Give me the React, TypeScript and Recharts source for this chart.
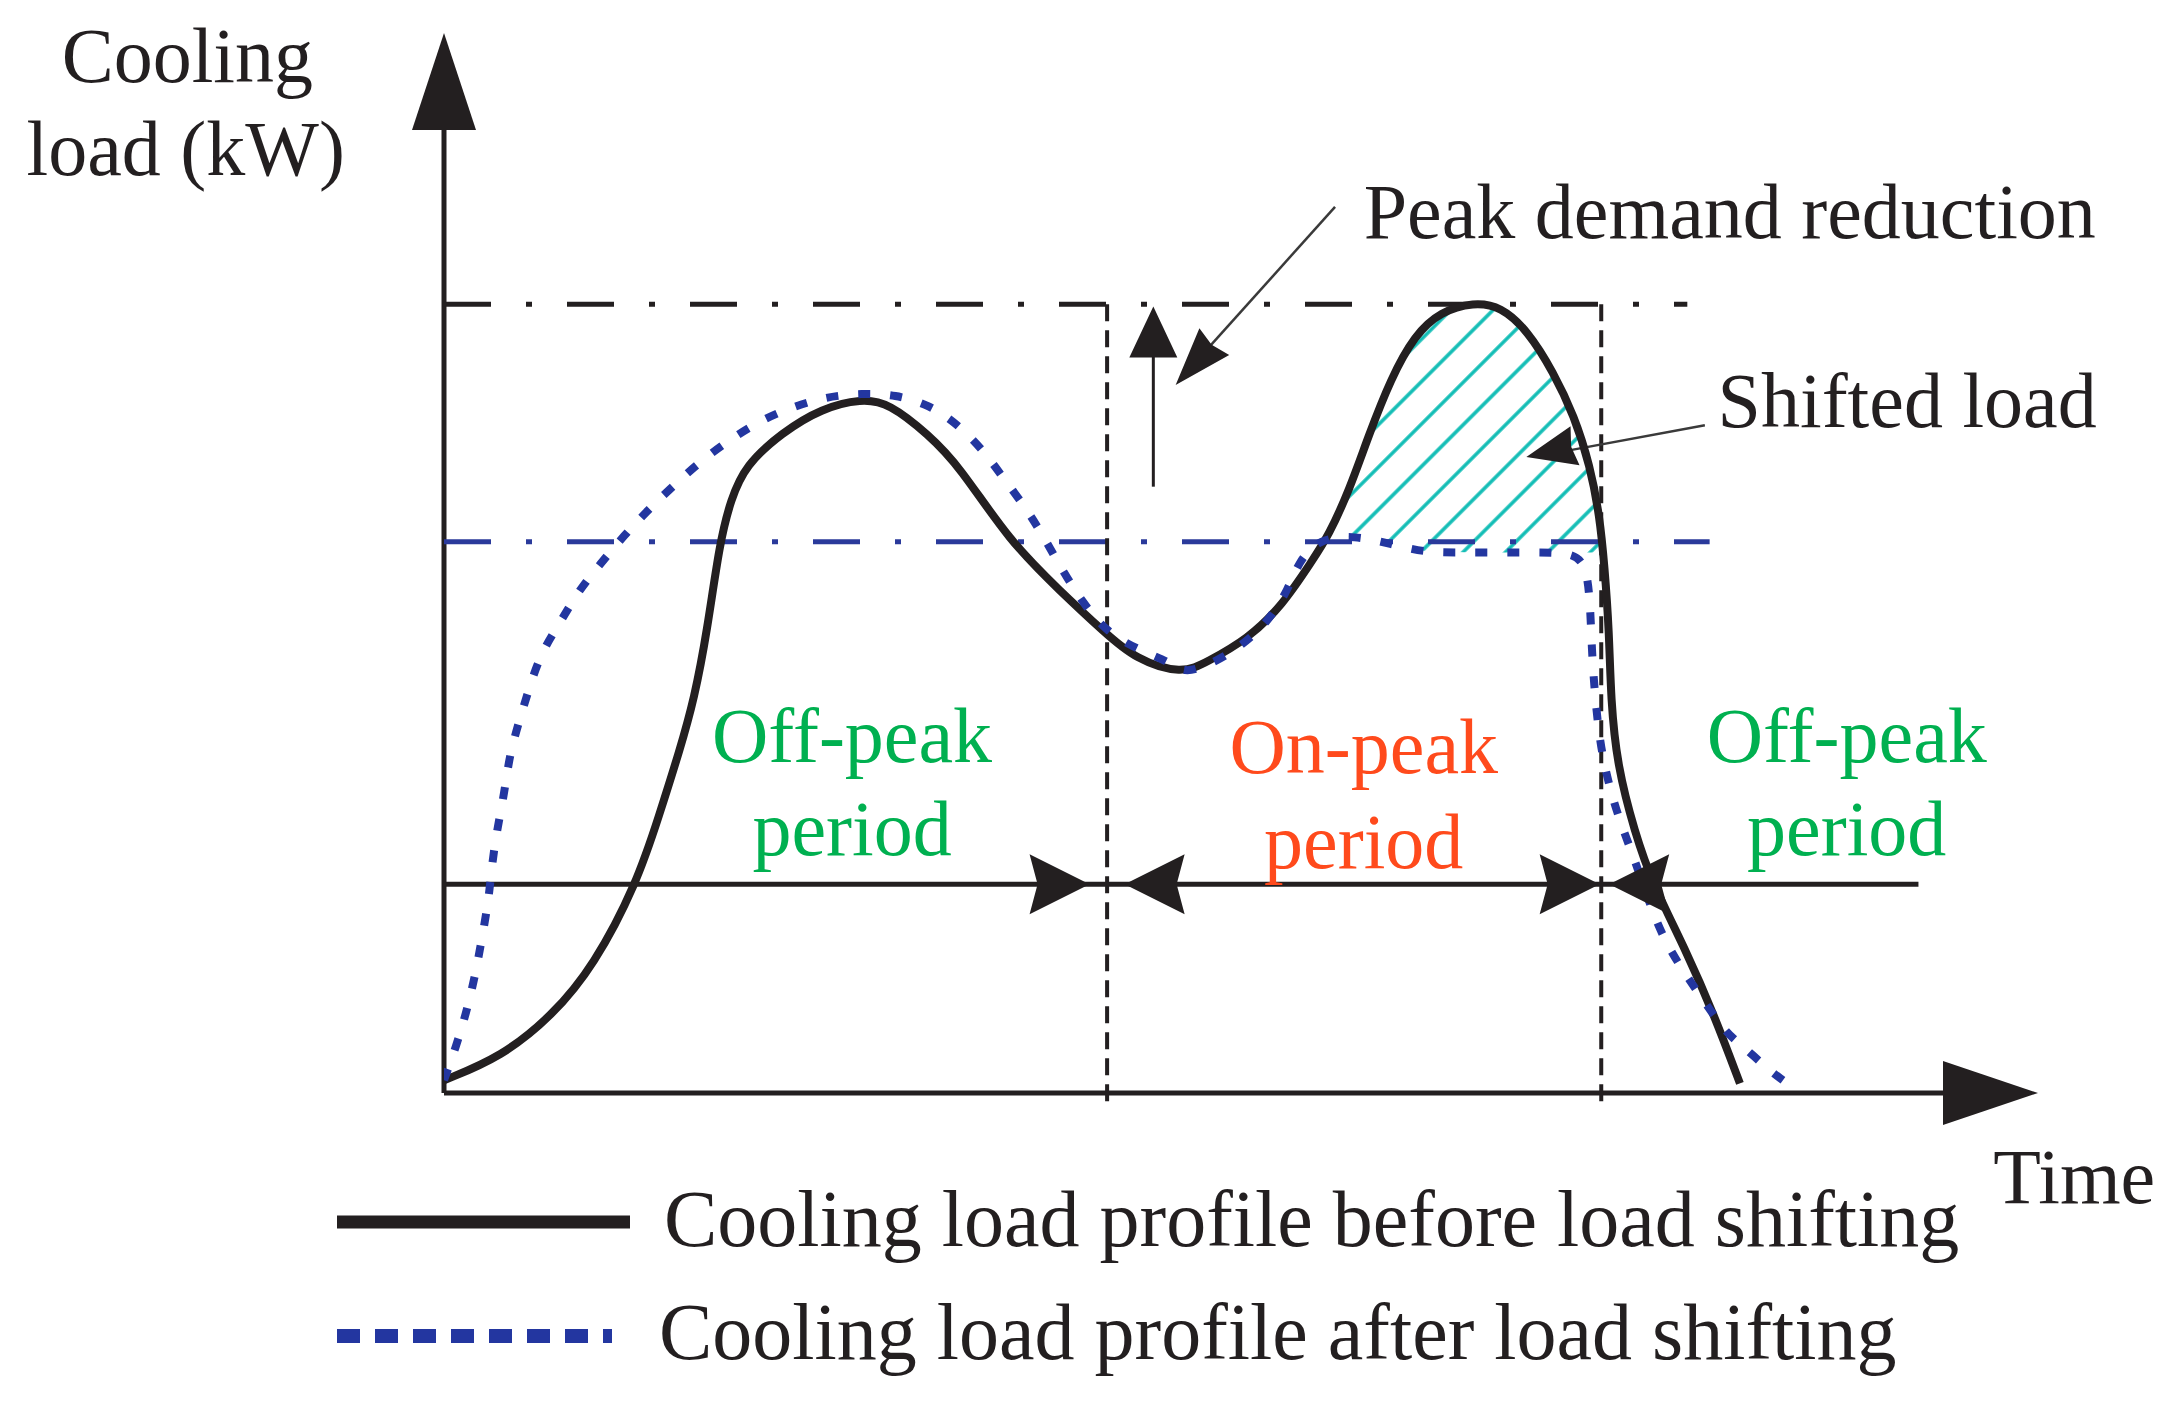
import React from 'react';
import {
  ComposedChart,
  Line,
  Area,
  XAxis,
  YAxis,
  ReferenceLine,
  ReferenceDot,
  Legend,
} from 'recharts';

// ---------- data (time and load in arbitrary 0-100 units) ----------
const beforeShifting = [
  { t: 0, load: 1.2 }, { t: 3.6, load: 3.4 }, { t: 6.8, load: 7.3 }, { t: 9.4, load: 12.0 },
  { t: 12.1, load: 19.8 }, { t: 13.5, load: 26.2 }, { t: 14.8, load: 32.4 },
  { t: 15.7, load: 37.2 }, { t: 16.5, load: 43.5 }, { t: 17.3, load: 52.0 }, { t: 18.0, load: 56.0 },
  { t: 18.9, load: 59.2 }, { t: 21.2, load: 62.3 }, { t: 23.7, load: 64.6 }, { t: 26.2, load: 65.5 },
  { t: 27.9, load: 65.1 }, { t: 30.4, load: 62.1 }, { t: 32.3, load: 59.2 }, { t: 35.5, load: 52.0 },
  { t: 38.7, load: 47.3 }, { t: 41.4, load: 43.5 }, { t: 43.4, load: 40.9 }, { t: 46.3, load: 39.5 },
  { t: 47.9, load: 40.7 }, { t: 50.4, load: 42.8 }, { t: 52.6, load: 46.0 }, { t: 54.5, load: 50.3 },
  { t: 55.5, load: 52.6 }, { t: 56.8, load: 56.9 }, { t: 58.0, load: 62.0 }, { t: 59.4, load: 67.4 },
  { t: 60.9, load: 71.5 }, { t: 62.5, load: 73.7 }, { t: 64.6, load: 74.6 }, { t: 66.3, load: 74.2 },
  { t: 68.0, load: 71.9 }, { t: 69.6, load: 68.0 }, { t: 70.9, load: 63.9 }, { t: 71.9, load: 59.2 },
  { t: 72.5, load: 54.4 }, { t: 72.8, load: 49.8 }, { t: 73.1, load: 43.5 }, { t: 73.2, load: 37.1 },
  { t: 73.6, load: 30.9 }, { t: 74.7, load: 24.6 }, { t: 75.8, load: 19.8 }, { t: 77.9, load: 13.5 },
  { t: 79.7, load: 7.3 }, { t: 81.3, load: 0.9 },
];

const afterShifting = [
  { t: 0, load: 1.2 }, { t: 0.9, load: 5.0 }, { t: 1.5, load: 8.2 }, { t: 2.0, load: 11.4 },
  { t: 2.4, load: 14.8 }, { t: 2.8, load: 18.2 }, { t: 3.0, load: 21.4 }, { t: 3.3, load: 24.6 },
  { t: 3.8, load: 28.4 }, { t: 4.1, load: 31.8 }, { t: 4.7, load: 35.0 }, { t: 5.3, load: 38.0 },
  { t: 6.1, load: 41.6 }, { t: 7.3, load: 44.4 }, { t: 8.4, load: 47.3 }, { t: 9.8, load: 49.9 },
  { t: 11.3, load: 52.6 }, { t: 12.8, load: 55.0 }, { t: 14.4, load: 57.3 }, { t: 16.1, load: 59.6 },
  { t: 17.9, load: 61.6 }, { t: 19.8, load: 63.4 }, { t: 21.8, load: 64.7 }, { t: 24.0, load: 65.7 },
  { t: 26.2, load: 66.0 }, { t: 28.3, load: 65.9 }, { t: 30.5, load: 64.9 }, { t: 32.3, load: 63.0 },
  { t: 33.9, load: 60.5 }, { t: 35.1, load: 58.0 }, { t: 36.6, load: 55.0 }, { t: 37.8, load: 52.0 },
  { t: 38.8, load: 49.3 }, { t: 40.1, load: 46.2 }, { t: 41.5, load: 43.6 }, { t: 43.4, load: 41.9 },
  { t: 45.5, load: 40.7 }, { t: 46.4, load: 39.6 }, { t: 47.9, load: 40.3 }, { t: 49.8, load: 41.9 },
  { t: 51.7, load: 44.4 }, { t: 53.0, load: 47.6 }, { t: 53.6, load: 50.1 }, { t: 54.9, load: 52.3 },
  { t: 57.1, load: 52.6 }, { t: 59.4, load: 51.8 }, { t: 61.5, load: 51.0 }, { t: 63.6, load: 51.0 },
  { t: 65.9, load: 51.0 }, { t: 68.1, load: 51.0 }, { t: 70.4, load: 51.0 }, { t: 71.6, load: 50.3 },
  { t: 71.9, load: 46.6 }, { t: 72.0, load: 41.9 }, { t: 72.2, load: 37.5 }, { t: 72.6, load: 31.8 },
  { t: 73.6, load: 26.2 }, { t: 74.7, load: 22.1 }, { t: 76.1, load: 15.7 }, { t: 77.5, load: 12.0 },
  { t: 79.0, load: 8.8 }, { t: 80.4, load: 5.7 }, { t: 81.5, load: 4.4 }, { t: 83.1, load: 2.2 },
  { t: 84.0, load: 1.2 },
];

const shiftedLoad = [
  { t: 55.2, low: 52.4, high: 52.4 }, { t: 56.8, low: 52.6, high: 56.9 }, { t: 58.0, low: 52.3, high: 62.0 },
  { t: 59.4, low: 51.8, high: 67.4 }, { t: 60.9, low: 51.2, high: 71.5 }, { t: 62.5, low: 51.0, high: 73.7 },
  { t: 64.6, low: 51.0, high: 74.6 }, { t: 66.3, low: 51.0, high: 74.2 }, { t: 68.0, low: 51.0, high: 71.9 },
  { t: 69.6, low: 51.0, high: 68.0 }, { t: 70.9, low: 51.0, high: 63.9 }, { t: 71.9, low: 51.0, high: 59.2 },
  { t: 72.5, low: 51.0, high: 54.4 }, { t: 72.75, low: 51.0, high: 51.0 },
];

// key levels and period boundaries
const originalPeak = 74.4;
const reducedPeak = 52.0;
const onPeakStart = 41.6;
const onPeakEnd = 72.6;
const periodLevel = 19.7;

const seriesNames = ['Cooling load profile before load shifting', 'Cooling load profile after load shifting'];

// ---------- styles ----------
const INK = '#231f20';
const BLUE = '#2336a0';
const GREEN = '#00b050';
const RED = '#ff4a1c';
const CYAN = '#12bdb5';
const FONT = '"Liberation Serif", "Times New Roman", serif';
const FS = 78;

const W = 2182;
const H = 1406;

const textShape = (text: string, anchor: 'start' | 'middle' | 'end', color: string) => (props: any) => {
  const { cx, cy } = props;
  if (cx == null || cy == null) return <g />;
  return (
    <text x={cx} y={cy} textAnchor={anchor} fontFamily={FONT} fontSize={FS} fill={color}>
      {text}
    </text>
  );
};

const arrowShape = (angleDeg: number, len: number, half: number, notch = 0) => (props: any) => {
  const { cx, cy } = props;
  if (cx == null || cy == null) return <g />;
  const a = (angleDeg * Math.PI) / 180;
  const ux = Math.cos(a);
  const uy = Math.sin(a);
  const px = -uy;
  const py = ux;
  const bx = cx - ux * len;
  const by = cy - uy * len;
  const nx = cx - ux * (len - notch);
  const ny = cy - uy * (len - notch);
  const pts = [
    [cx, cy],
    [bx + px * half, by + py * half],
    [nx, ny],
    [bx - px * half, by - py * half],
  ];
  return <polygon points={pts.map((p) => p.join(',')).join(' ')} fill={INK} />;
};

const annotations = [
  { text: 'Cooling', t: -16.1, load: 95.4, anchor: 'middle', color: INK },
  { text: 'load (kW)', t: -16.2, load: 86.6, anchor: 'middle', color: INK },
  { text: 'Peak demand reduction', t: 57.7, load: 80.7, anchor: 'start', color: INK },
  { text: 'Shifted load', t: 79.9, load: 62.8, anchor: 'start', color: INK },
  { text: 'Off-peak', t: 25.6, load: 31.2, anchor: 'middle', color: GREEN },
  { text: 'period', t: 25.6, load: 22.5, anchor: 'middle', color: GREEN },
  { text: 'On-peak', t: 57.7, load: 30.2, anchor: 'middle', color: RED },
  { text: 'period', t: 57.7, load: 21.2, anchor: 'middle', color: RED },
  { text: 'Off-peak', t: 88.0, load: 31.2, anchor: 'middle', color: GREEN },
  { text: 'period', t: 88.0, load: 22.5, anchor: 'middle', color: GREEN },
  { text: 'Time', t: 97.2, load: -10.4, anchor: 'start', color: INK },
] as const;

const arrowHeads = [
  { t: 0, load: 100, angle: -90, len: 97, half: 32, notch: 0 },
  { t: 100, load: 0, angle: 0, len: 95, half: 32, notch: 0 },
  { t: 40.5, load: periodLevel, angle: 0, len: 60, half: 30, notch: 8 },
  { t: 42.7, load: periodLevel, angle: 180, len: 60, half: 30, notch: 8 },
  { t: 72.5, load: periodLevel, angle: 0, len: 60, half: 30, notch: 8 },
  { t: 73.1, load: periodLevel, angle: 180, len: 60, half: 30, notch: 8 },
  { t: 44.5, load: 74.2, angle: -90, len: 51, half: 24, notch: 0 },
  { t: 45.9, load: 66.8, angle: 131.8, len: 58, half: 20, notch: 4 },
  { t: 67.9, load: 60.0, angle: 167, len: 50, half: 20, notch: 4 },
];

const segments = [
  // axes
  { a: { x: 0, y: 0 }, b: { x: 0, y: 92 }, stroke: INK, width: 5, dash: undefined },
  { a: { x: 0, y: 0 }, b: { x: 95, y: 0 }, stroke: INK, width: 5, dash: undefined },
  // original peak and reduced peak levels
  { a: { x: 0, y: originalPeak }, b: { x: 78, y: originalPeak }, stroke: INK, width: 5, dash: '47 35 6 35' },
  { a: { x: 0, y: reducedPeak }, b: { x: 79.4, y: reducedPeak }, stroke: '#2a3a9b', width: 5, dash: '47 35 6 35' },
  // period boundaries
  { a: { x: onPeakStart, y: originalPeak }, b: { x: onPeakStart, y: -1.5 }, stroke: INK, width: 4, dash: '17 9' },
  { a: { x: onPeakEnd, y: originalPeak }, b: { x: onPeakEnd, y: -1.5 }, stroke: INK, width: 4, dash: '17 9' },
  // period arrow line
  { a: { x: 0, y: periodLevel }, b: { x: 92.5, y: periodLevel }, stroke: INK, width: 5, dash: undefined },
  // peak demand reduction arrow
  { a: { x: 44.5, y: 57.2 }, b: { x: 44.5, y: 70 }, stroke: INK, width: 3, dash: undefined },
  { a: { x: 55.9, y: 83.6 }, b: { x: 47.6, y: 69.7 }, stroke: '#3a3a3a', width: 2.5, dash: undefined },
  // shifted load leader
  { a: { x: 79.1, y: 63.0 }, b: { x: 70.5, y: 60.6 }, stroke: '#3a3a3a', width: 2.5, dash: undefined },
];

const LEGEND_TOP = 1130;

const renderLegend = (props: any) => {
  const payload = (props.payload || []).filter((p: any) => p.type !== 'none' && seriesNames.includes(p.value));
  const rows = [
    { lineY: 92, textY: 116, x1: 337, x2: 630, textX: 664 },
    { lineY: 206, textY: 229, x1: 337, x2: 612, textX: 659 },
  ];
  return (
    <svg width={W} height={270} style={{ display: 'block', overflow: 'visible' }}>
      {payload.map((entry: any, k: number) => {
        const i = seriesNames.indexOf(entry.value);
        const r = rows[i];
        return (
          <g key={k}>
            <line
              x1={r.x1}
              x2={r.x2}
              y1={r.lineY}
              y2={r.lineY}
              stroke={i === 0 ? INK : BLUE}
              strokeWidth={i === 0 ? 13 : 14}
              strokeDasharray={i === 0 ? undefined : '23 15'}
            />
            <text x={r.textX} y={r.textY} fontFamily={FONT} fontSize={80} fill={INK}>
              {entry.value}
            </text>
          </g>
        );
      })}
    </svg>
  );
};

export default function App() {
  return (
    <div style={{ position: 'absolute', left: 0, top: 0, width: W, height: H, background: '#fff' }}>
      <ComposedChart width={W} height={H} margin={{ top: 33, right: 144, bottom: 313, left: 444 }}>
        <defs>
          <pattern id="hatch" width="30" height="30" patternUnits="userSpaceOnUse" patternTransform="rotate(45)">
            <line x1="15" y1="0" x2="15" y2="30" stroke={CYAN} strokeWidth="3.5" />
          </pattern>
        </defs>
        <XAxis type="number" dataKey="t" domain={[0, 100]} allowDataOverflow hide />
        <YAxis type="number" domain={[0, 100]} allowDataOverflow hide />

        <Area
          data={shiftedLoad}
          dataKey={(d: any) => [d.low, d.high]}
          type="basis"
          fill="url(#hatch)"
          fillOpacity={1}
          stroke="none"
          legendType="none"
          isAnimationActive={false}
        />

        {segments.map((s, i) => (
          <ReferenceLine
            key={`seg-${i}`}
            segment={[s.a, s.b]}
            stroke={s.stroke}
            strokeWidth={s.width}
            strokeDasharray={s.dash}
            ifOverflow="visible"
          />
        ))}

        <Line
          data={beforeShifting}
          dataKey="load"
          name={seriesNames[0]}
          type="basis"
          stroke={INK}
          strokeWidth={8}
          dot={false}
          activeDot={false}
          isAnimationActive={false}
        />
        <Line
          data={afterShifting}
          dataKey="load"
          name={seriesNames[1]}
          type="basis"
          stroke={BLUE}
          strokeWidth={8}
          strokeDasharray="12 20"
          dot={false}
          activeDot={false}
          isAnimationActive={false}
        />

        {arrowHeads.map((h, i) => (
          <ReferenceDot
            key={`head-${i}`}
            x={h.t}
            y={h.load}
            ifOverflow="visible"
            shape={arrowShape(h.angle, h.len, h.half, h.notch)}
          />
        ))}

        {annotations.map((a, i) => (
          <ReferenceDot
            key={`txt-${i}`}
            x={a.t}
            y={a.load}
            ifOverflow="visible"
            shape={textShape(a.text, a.anchor as any, a.color)}
          />
        ))}

        <Legend
          layout="horizontal"
          verticalAlign="middle"
          align="center"
          wrapperStyle={{ position: 'absolute', left: 0, top: LEGEND_TOP, width: W, height: 270 }}
          content={renderLegend}
        />
      </ComposedChart>
    </div>
  );
}
